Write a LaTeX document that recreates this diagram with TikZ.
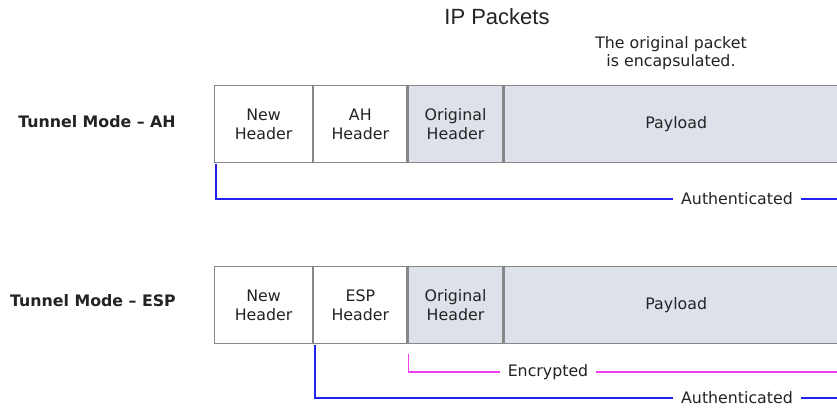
\documentclass[tikz,border=0pt]{standalone}
\usepackage{fontspec}
\setmainfont{DejaVu Sans}
\newfontfamily\arialfont{Liberation Sans}
\definecolor{authblue}{RGB}{35,35,240}
\definecolor{encpink}{RGB}{240,60,240}
\definecolor{cellfill}{RGB}{220,225,234}
\definecolor{txt}{RGB}{35,35,35}
\definecolor{cellborder}{RGB}{135,135,135}
\tikzset{
  cell/.style={draw=cellborder, line width=1.2pt, fill=white, minimum height=77pt,
    anchor=north west, inner sep=0pt, align=center, text=txt,
    font=\fontsize{15.8}{19}\selectfont},
  graycell/.style={cell, fill=cellfill},
  modelabel/.style={text=txt, font=\bfseries\fontsize{15.8}{18}\selectfont},
  linelabel/.style={text=txt, inner xsep=8pt, inner ysep=0pt, font=\fontsize{15.8}{19}\selectfont},
  authline/.style={draw=authblue, line width=1.8pt},
  encline/.style={draw=encpink, line width=1.8pt},
}
\begin{document}
\begin{tikzpicture}[x=1pt,y=-1pt]
\clip (0,0) rectangle (837,409);
\fill[white] (0,0) rectangle (837,409);

% titles
\node[text=txt, font=\arialfont\fontsize{22}{24}\selectfont] (title) at (497,17) {IP Packets};
\node[text=txt, align=center, font=\fontsize{15.8}{18}\selectfont] (note) at (671,53) {The original packet\\is encapsulated.};

% row labels
\node[modelabel] (lab1) at (97,122) {Tunnel Mode – AH};
\node[modelabel] (lab2) at (93,301) {Tunnel Mode – ESP};

% row 1
\node[cell, minimum width=98pt] (n1) at (214,85) {New\\Header};
\node[cell, minimum width=93pt] (a1) at (n1.north east) {AH\\Header};
\node[graycell, minimum width=95pt] (o1) at (a1.north east) {Original\\Header};
\node[graycell, minimum width=344pt] (p1) at (o1.north east) {Payload};

% row 2
\node[cell, minimum width=98pt] (n2) at (214,266) {New\\Header};
\node[cell, minimum width=93pt] (e2) at (n2.north east) {ESP\\Header};
\node[graycell, minimum width=95pt] (o2) at (e2.north east) {Original\\Header};
\node[graycell, minimum width=344pt] (p2) at (o2.north east) {Payload};

% row 1 authenticated
\node[linelabel] (auth1) at (737,199) {Authenticated};
\coordinate (auth1end) at (850,199);
\draw[authline] ([xshift=2pt,yshift=-1pt]n1.south west) |- (auth1.west);
\draw[authline] (auth1.east) -- (auth1end);

% row 2 encrypted
\node[linelabel] (enc2) at (548,372) {Encrypted};
\coordinate (enc2end) at (850,372);
\draw[encline] ([xshift=1pt,yshift=-10pt]o2.south west) |- (enc2.west);
\draw[encline] (enc2.east) -- (enc2end);

% row 2 authenticated
\node[linelabel] (auth2) at (737,398) {Authenticated};
\coordinate (auth2end) at (850,398);
\draw[authline] ([xshift=2pt,yshift=-1pt]e2.south west) |- (auth2.west);
\draw[authline] (auth2.east) -- (auth2end);
\end{tikzpicture}
\end{document}
